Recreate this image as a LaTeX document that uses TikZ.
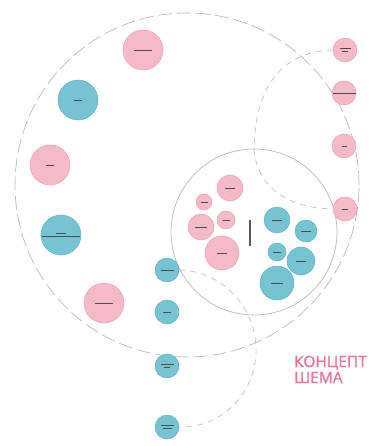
\documentclass[tikz,border=0pt]{standalone}
\usepackage{fontspec}
\newfontfamily\titlefont[FakeBold=1]{Open Sans}
\usetikzlibrary{positioning}

\definecolor{pinkfill}{RGB}{245,185,200}
\definecolor{pinkline}{RGB}{232,160,178}
\definecolor{bluefill}{RGB}{117,195,211}
\definecolor{blueline}{RGB}{98,178,196}
\definecolor{titlepink}{RGB}{236,112,152}

\newcommand*{\wpx}{372}
\newcommand*{\hpx}{446}
\newcommand*{\lbl}[1]{\textcolor{black!70}{\rule{#1pt}{0.6pt}}}

\begin{document}
\begin{tikzpicture}
[
	x=1pt, y=-1pt,
	pinkpt/.style={circle,draw=pinkline,fill=pinkfill,line width=0.5pt,inner sep=0pt,align=center,font=\fontsize{2}{2.5}\selectfont},
	bluept/.style={circle,draw=blueline,fill=bluefill,line width=0.5pt,inner sep=0pt,align=center,font=\fontsize{2}{2.5}\selectfont},
	ring/.style={circle,draw=gray!55,line width=0.7pt,inner sep=0pt},
	link/.style={draw=gray!45,line width=0.8pt,dash pattern=on 6pt off 5pt}
]

	\useasboundingbox (0,0) rectangle (\wpx,\hpx);

	% rings
	\node[ring,dash pattern=on 14pt off 5pt,minimum size=344pt] (field) at (187,185) {};
	\node[ring,minimum size=166pt] (core) at (254,232) {};

	% outer points
	\foreach \name/\x/\y/\r/\kind/\txt in {
		o1/143/50/20/pinkpt/{\lbl{18}},
		o2/78/100/20/bluept/{\lbl{8}},
		o3/50/165/20/pinkpt/{\lbl{8}},
		o4/61/235/20/bluept/{\lbl{10}\\[1pt]\lbl{38}},
		o5/104/303/20/pinkpt/{\lbl{18}},
		b1/167/270/12/bluept/{\lbl{13}},
		b2/167/312/12/bluept/{\lbl{8}},
		b3/167/366/12/bluept/{\lbl{13}\\[1pt]\lbl{6}},
		b4/167/427/12/bluept/{\lbl{13}\\[1pt]\lbl{9}},
		r1/345/50/12/pinkpt/{\lbl{11}\\[0.5pt]\lbl{6}},
		r2/344/93/12/pinkpt/{\lbl{23}},
		r3/344/146/12/pinkpt/{\lbl{5}},
		r4/345/209/12/pinkpt/{\lbl{6}}} {
		\node[\kind,minimum size=2*\r pt] (\name) at (\x,\y) {\txt};
	}

	% inner points
	\foreach \name/\x/\y/\r/\kind/\txt in {
		i1/230/188/13/pinkpt/{\lbl{10}},
		i2/204/202/8/pinkpt/{\lbl{7}},
		i3/226/220/9/pinkpt/{\lbl{7}},
		i4/201/227/13/pinkpt/{\lbl{12}},
		i5/222/253/17/pinkpt/{\lbl{10}},
		j1/277/220/13/bluept/{\lbl{10}},
		j2/306/231/11/bluept/{\lbl{10}},
		j3/277/252/9/bluept/{\lbl{8}},
		j4/301/261/14/bluept/{\lbl{10}},
		j5/277/283/17/bluept/{\lbl{12}}} {
		\node[\kind,minimum size=2*\r pt] (\name) at (\x,\y) {\txt};
	}

	% centre label
	\node[rotate=90,inner sep=0pt] (axis) at (250,233) {\textcolor{black!65}{\rule{26pt}{2pt}}};

	% links
	\draw[link] (r1.west) .. controls (272,52) and (255,100) .. (core.north);
	\draw[link] (core.north) .. controls (256,182) and (282,208) .. (r4.west);
	\draw[link] (b1.east) .. controls (222,271) and (256,307) .. (256,350)
	  .. controls (256,393) and (222,428) .. (b4.east);

	% title
	\node[anchor=base west,inner sep=0pt,text=titlepink,font=\titlefont\fontsize{15.5}{16}\selectfont] (title) at (294,367) {КОНЦЕПТ};
	\node[anchor=base west,inner sep=0pt,text=titlepink,font=\titlefont\fontsize{15.5}{16}\selectfont] (subtitle) at (294,383) {ШЕМА};

\end{tikzpicture}
\end{document}
